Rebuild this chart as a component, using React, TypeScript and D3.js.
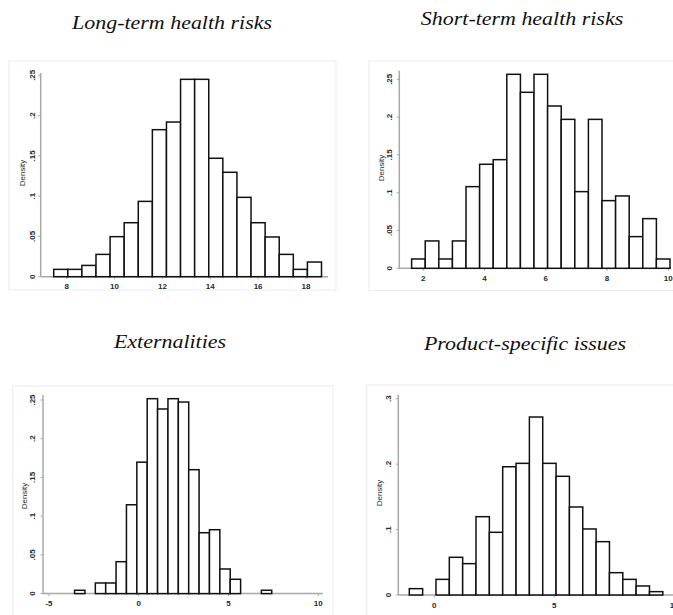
import React from "react";
import * as d3 from "d3";

// Histogram densities, one value per bin (left to right)
const longTermDensity = [
  0.0091, 0.0091, 0.014, 0.0277, 0.0497, 0.067, 0.0935, 0.1825, 0.192, 0.245,
  0.245, 0.147, 0.1296, 0.0985, 0.067, 0.0493, 0.0277, 0.0091, 0.0182,
];
const longTermBinStart = 7.457;
const longTermBinWidth = 0.589;

const shortTermDensity = [
  0.0123, 0.0362, 0.0123, 0.0362, 0.108, 0.1376, 0.1437, 0.2566, 0.2328, 0.2566,
  0.2147, 0.197, 0.1014, 0.197, 0.0895, 0.0957, 0.0419, 0.0657, 0.0123,
];
const shortTermBinStart = 1.619;
const shortTermBinWidth = 0.444;

const externalitiesDensity = [
  0.0043, 0, 0.0137, 0.0137, 0.0412, 0.1147, 0.1697, 0.2517, 0.2384, 0.2517,
  0.2474, 0.16, 0.0786, 0.0825, 0.0318, 0.0185, 0, 0, 0.0043,
];
const externalitiesBinStart = -3.576;
const externalitiesBinWidth = 0.578;

const productDensity = [
  0.0097, 0, 0.0239, 0.0576, 0.0479, 0.1197, 0.0958, 0.196, 0.2012, 0.272,
  0.2012, 0.1814, 0.1345, 0.1009, 0.0815, 0.0341, 0.0239, 0.0138, 0.0051,
];
const productBinStart = -1.042;
const productBinWidth = 0.556;

// Axis ticks
const longTermXTicks = [8, 10, 12, 14, 16, 18];
const shortTermXTicks = [2, 4, 6, 8, 10];
const externalitiesXTicks = [-5, 0, 5, 10];
const productXTicks = [0, 5, 10];
const densityTicks = [0, 0.05, 0.1, 0.15, 0.2, 0.25];
const productDensityTicks = [0, 0.1, 0.2, 0.3];

const titles = [
  "Long-term health risks",
  "Short-term health risks",
  "Externalities",
  "Product-specific issues",
];

type Panel = {
  title: string;
  titleX: number;
  titleY: number;
  density: number[];
  binStart: number;
  binWidth: number;
  xTicks: number[];
  yTicks: number[];
  frame: [number, number, number, number];
  // two reference ticks and their pixel positions
  xRef: [number, number, number, number];
  yRef: [number, number, number, number];
  axisLeft: number;
  axisRight: number;
  axisTop: number;
  yLabelX: number;
  tickLabelX: number;
  densityLabelY: number;
};

const panels: Panel[] = [
  {
    title: titles[0], titleX: 172, titleY: 29,
    density: longTermDensity, binStart: longTermBinStart, binWidth: longTermBinWidth,
    xTicks: longTermXTicks, yTicks: densityTicks,
    frame: [9, 61, 336, 290],
    xRef: [8, 66.7, 18, 306], yRef: [0, 276.7, 0.25, 75.3],
    axisLeft: 40.7, axisRight: 328, axisTop: 73,
    yLabelX: 21.5, tickLabelX: 31.7, densityLabelY: 173,
  },
  {
    title: titles[1], titleX: 522, titleY: 25,
    density: shortTermDensity, binStart: shortTermBinStart, binWidth: shortTermBinWidth,
    xTicks: shortTermXTicks, yTicks: densityTicks,
    frame: [369, 61, 680, 290.5],
    xRef: [2, 423.3, 10, 668.3], yRef: [0, 268.3, 0.25, 79.3],
    axisLeft: 399.3, axisRight: 671, axisTop: 70.7,
    yLabelX: 381, tickLabelX: 389.3, densityLabelY: 168,
  },
  {
    title: titles[2], titleX: 170, titleY: 348,
    density: externalitiesDensity, binStart: externalitiesBinStart, binWidth: externalitiesBinWidth,
    xTicks: externalitiesXTicks, yTicks: densityTicks,
    frame: [12.7, 386, 333, 640],
    xRef: [-5, 49, 10, 318.3], yRef: [0, 593.6, 0.25, 400],
    axisLeft: 43, axisRight: 323, axisTop: 395,
    yLabelX: 24, tickLabelX: 31.7, densityLabelY: 496,
  },
  {
    title: titles[3], titleX: 525, titleY: 350,
    density: productDensity, binStart: productBinStart, binWidth: productBinWidth,
    xTicks: productXTicks, yTicks: productDensityTicks,
    frame: [366.7, 385, 690, 640],
    xRef: [0, 434.3, 5, 554.3], yRef: [0, 595, 0.3, 398.7],
    axisLeft: 398.3, axisRight: 690, axisTop: 395,
    yLabelX: 379, tickLabelX: 388.3, densityLabelY: 493,
  },
];

const fmtY = (d: number) => (d === 0 ? "0" : String(+d.toFixed(2)).replace(/^0/, ""));

const AXIS = "#a8a8a8";
const TICK_TEXT = "#2a2a2a";

function Histogram({ p }: { p: Panel }) {
  const x = d3.scaleLinear().domain([p.xRef[0], p.xRef[2]]).range([p.xRef[1], p.xRef[3]]);
  const y = d3.scaleLinear().domain([p.yRef[0], p.yRef[2]]).range([p.yRef[1], p.yRef[3]]);
  const base = y(0);
  const bins = p.density.map((v, i) => ({
    x0: p.binStart + i * p.binWidth,
    x1: p.binStart + (i + 1) * p.binWidth,
    v,
  }));
  const [fx0, fy0, fx1, fy1] = p.frame;
  return (
    <g>
      <rect x={fx0} y={fy0} width={fx1 - fx0} height={fy1 - fy0} fill="none" stroke="#ececec" strokeWidth={1} />
      <g transform={`translate(${p.titleX},${p.titleY}) scale(1.22,1)`}>
        <text
          textAnchor="middle"
          fontFamily="'Liberation Serif', 'Times New Roman', serif"
          fontStyle="italic"
          fontSize={18}
          fill="#111"
        >
          {p.title}
        </text>
      </g>
      {/* axes */}
      <line x1={p.axisLeft} x2={p.axisLeft} y1={p.axisTop} y2={base} stroke={AXIS} strokeWidth={1.5} />
      <line x1={p.axisLeft} x2={p.axisRight} y1={base} y2={base} stroke={AXIS} strokeWidth={1.5} />
      {p.yTicks.map((t) => (
        <g key={"y" + t}>
          <line x1={p.axisLeft - 2.5} x2={p.axisLeft} y1={y(t)} y2={y(t)} stroke={AXIS} strokeWidth={1} />
          <text
            transform={`translate(${p.tickLabelX + 3},${y(t)}) rotate(-90)`}
            textAnchor="middle"
            fontFamily="'Liberation Sans', Arial, sans-serif"
            fontSize={8}
            fontWeight="bold"
            fill={TICK_TEXT}
          >
            {fmtY(t)}
          </text>
        </g>
      ))}
      {p.xTicks.map((t) => (
        <g key={"x" + t}>
          <line x1={x(t)} x2={x(t)} y1={base} y2={base + 2.5} stroke={AXIS} strokeWidth={1} />
          <text
            x={x(t)}
            y={base + 12.5}
            textAnchor="middle"
            fontFamily="'Liberation Sans', Arial, sans-serif"
            fontSize={8}
            fontWeight="bold"
            fill={TICK_TEXT}
          >
            {t}
          </text>
        </g>
      ))}
      <text
        transform={`translate(${p.yLabelX + 3},${p.densityLabelY}) rotate(-90)`}
        textAnchor="middle"
        fontFamily="'Liberation Sans', Arial, sans-serif"
        fontSize={8}
        fill={TICK_TEXT}
      >
        Density
      </text>
      {/* bars */}
      {bins
        .filter((b) => b.v > 0)
        .map((b, i) => (
          <rect
            key={i}
            x={x(b.x0)}
            y={y(b.v)}
            width={x(b.x1) - x(b.x0)}
            height={base - y(b.v)}
            fill="#fff"
            stroke="#111"
            strokeWidth={1.5}
          />
        ))}
    </g>
  );
}

export default function App() {
  return (
    <svg
      width={673}
      height={615}
      style={{ position: "absolute", left: 0, top: 0, background: "#fff" }}
    >
      <rect width={673} height={615} fill="#fff" />
      {panels.map((p) => (
        <Histogram key={p.title} p={p} />
      ))}
    </svg>
  );
}
